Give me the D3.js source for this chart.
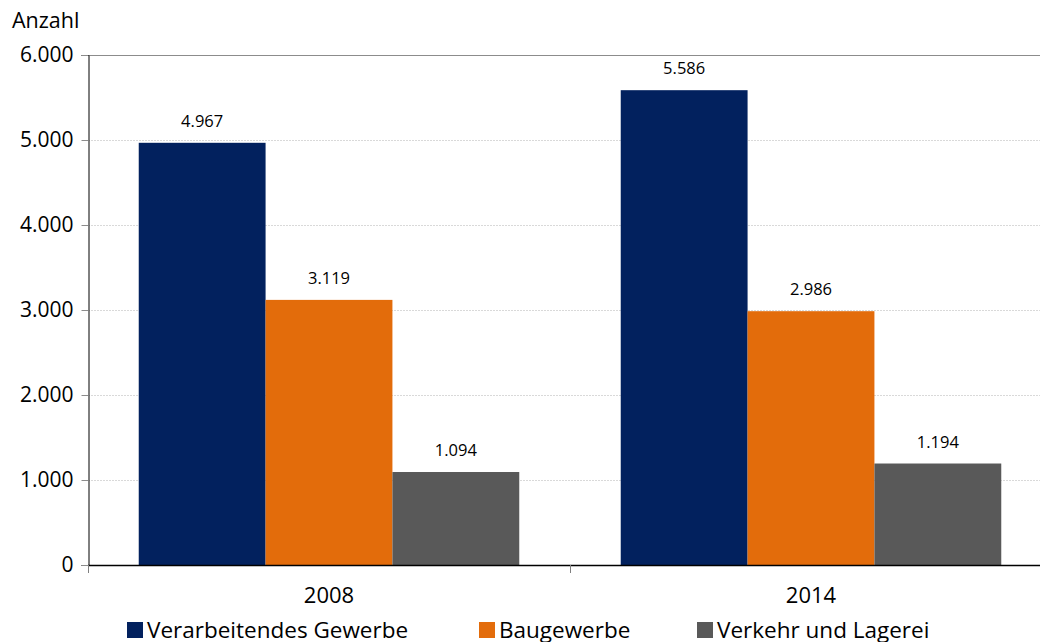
<!DOCTYPE html>
<html>
<head>
<meta charset="utf-8">
<script src="https://cdn.jsdelivr.net/npm/d3@7"></script>
<style>
  html, body { margin: 0; padding: 0; background: #fff; }
  svg { display: block; font-family: "Open Sans", "Noto Sans", sans-serif; }
</style>
</head>
<body>
<svg id="chart" width="1040" height="642"></svg>
<script>
// Betriebe nach Wirtschaftszweig, 2008 und 2014
const years = ["2008", "2014"];
const seriesNames = ["Verarbeitendes Gewerbe", "Baugewerbe", "Verkehr und Lagerei"];
const verarbeitendes = [4967, 5586];
const baugewerbe = [3119, 2986];
const verkehr = [1094, 1194];
const yTicks = [0, 1000, 2000, 3000, 4000, 5000, 6000];
const colors = ["#02215e", "#e36c0b", "#595959"];

const seriesValues = [verarbeitendes, baugewerbe, verkehr];
const fmt = d3.formatLocale({ decimal: ",", thousands: ".", grouping: [3], currency: ["", "€"] }).format(",d");

const svg = d3.select("#chart");
const plotLeft = 88, plotRight = 1052, plotTop = 55, plotBottom = 565;

const x0 = d3.scaleBand().domain(years).range([plotLeft, plotRight]).paddingInner(0).paddingOuter(0);
const x1 = d3.scaleBand().domain(seriesNames).range([0, x0.bandwidth()]).paddingInner(0).paddingOuter(0.4);
const y = d3.scaleLinear().domain([0, 6000]).range([plotBottom, plotTop]);

// Gridlines
svg.append("g")
  .selectAll("line")
  .data(yTicks.filter(t => t > 0 && t < 6000))
  .join("line")
  .attr("x1", plotLeft).attr("x2", 1040)
  .attr("y1", d => y(d) + 0.5).attr("y2", d => y(d) + 0.5)
  .attr("stroke", "#d9d9d9").attr("stroke-dasharray", "2,1");

// Top border line
svg.append("line")
  .attr("x1", plotLeft).attr("x2", 1040)
  .attr("y1", y(6000) + 0.5).attr("y2", y(6000) + 0.5)
  .attr("stroke", "#8c8c8c");

// Y axis
const yAxis = svg.append("g")
  .attr("transform", `translate(${plotLeft + 0.5},0)`)
  .call(d3.axisLeft(y).tickValues(yTicks).tickFormat(fmt).tickSize(7).tickPadding(8));
yAxis.select(".domain").attr("stroke", "#000");
yAxis.selectAll(".tick line").attr("stroke", "#8c8c8c");
yAxis.selectAll(".tick text").attr("font-size", 21).attr("fill", "#000")
  .attr("font-family", "'Open Sans', 'Noto Sans', sans-serif");

// Bars
const groups = svg.append("g").selectAll("g")
  .data(years)
  .join("g")
  .attr("transform", d => `translate(${x0(d)},0)`);

groups.selectAll("rect")
  .data((d, i) => seriesNames.map((s, k) => ({ s, k, v: seriesValues[k][i] })))
  .join("rect")
  .attr("x", d => x1(d.s))
  .attr("width", x1.bandwidth())
  .attr("y", d => y(d.v))
  .attr("height", d => plotBottom - y(d.v))
  .attr("fill", d => colors[d.k]);

groups.selectAll("text.val")
  .data((d, i) => seriesNames.map((s, k) => ({ s, k, v: seriesValues[k][i] })))
  .join("text")
  .attr("class", "val")
  .attr("x", d => x1(d.s) + x1.bandwidth() / 2)
  .attr("y", d => y(d.v) - 16)
  .attr("text-anchor", "middle")
  .attr("font-size", 16.5)
  .attr("fill", "#000")
  .text(d => fmt(d.v));

// X axis
const xAxisLine = svg.append("g");
xAxisLine.append("line")
  .attr("x1", plotLeft).attr("x2", 1040)
  .attr("y1", plotBottom + 0.5).attr("y2", plotBottom + 0.5)
  .attr("stroke", "#000").attr("stroke-width", 1.5);
xAxisLine.selectAll("line.sep")
  .data([plotLeft, x0(years[1])])
  .join("line")
  .attr("class", "sep")
  .attr("x1", d => d + 0.5).attr("x2", d => d + 0.5)
  .attr("y1", plotBottom).attr("y2", plotBottom + 8)
  .attr("stroke", "#808080");
xAxisLine.selectAll("text")
  .data(years)
  .join("text")
  .attr("x", d => x0(d) + x0.bandwidth() / 2)
  .attr("y", 603)
  .attr("text-anchor", "middle")
  .attr("font-size", 22)
  .attr("fill", "#000")
  .text(d => d);

// Axis title
svg.append("text")
  .attr("x", 12).attr("y", 28)
  .attr("font-size", 21.5).attr("fill", "#000")
  .text("Anzahl");

// Legend
const legendX = [127, 479, 697];
const legend = svg.append("g").selectAll("g")
  .data(seriesNames)
  .join("g")
  .attr("transform", (d, i) => `translate(${legendX[i]},622)`);
legend.append("rect")
  .attr("width", 16).attr("height", 16)
  .attr("fill", (d, i) => colors[i]);
legend.append("text")
  .attr("x", 20).attr("y", 16)
  .attr("font-size", 22.5).attr("fill", "#000")
  .text(d => d);
</script>
</body>
</html>
